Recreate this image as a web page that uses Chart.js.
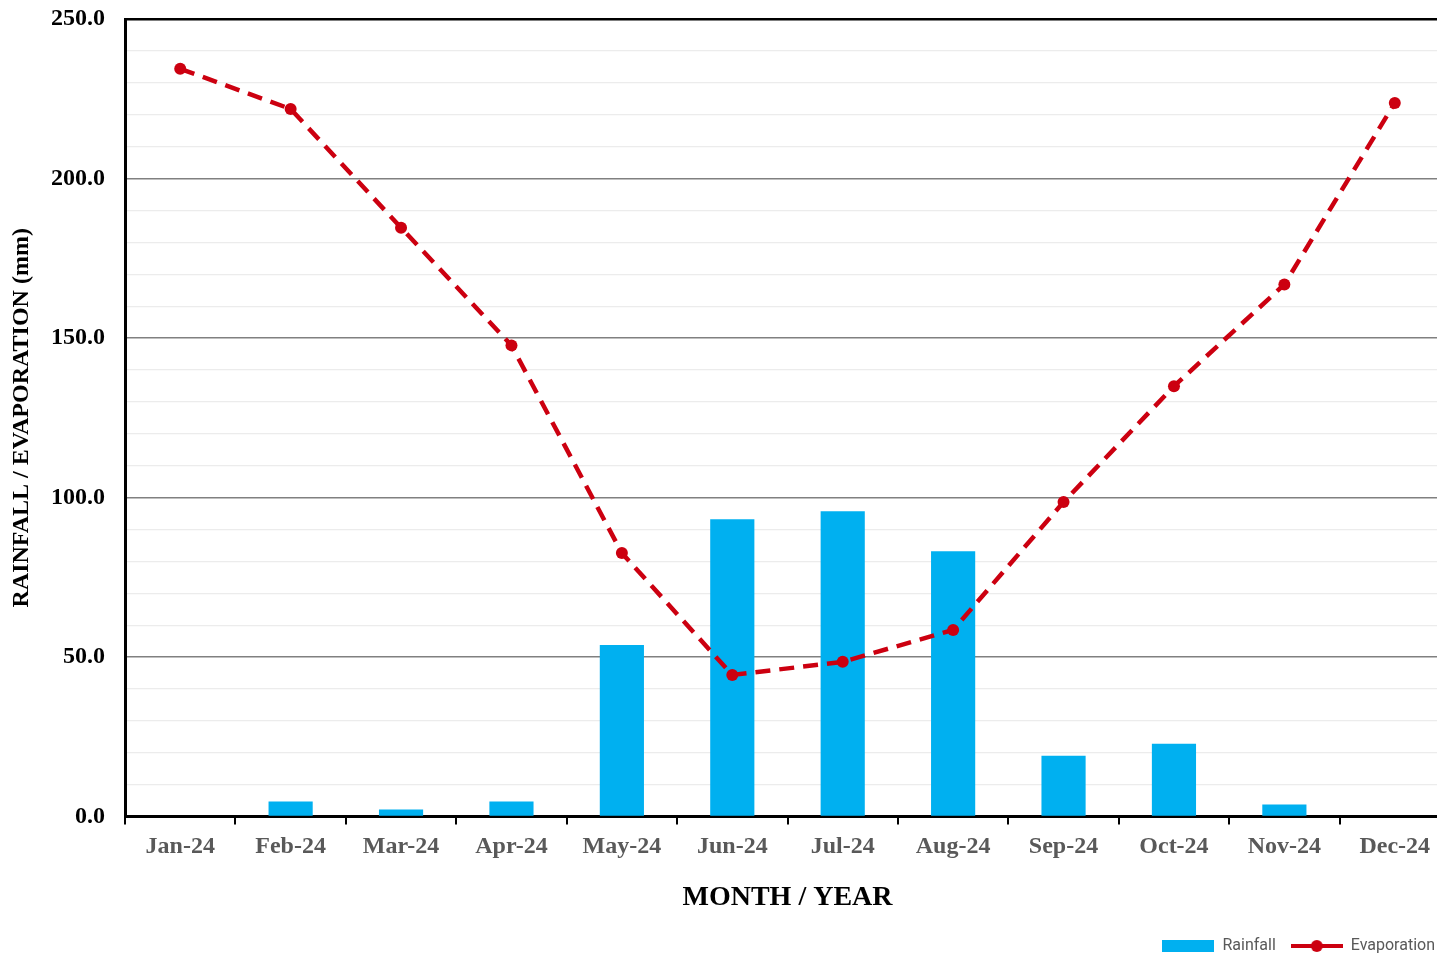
<!DOCTYPE html>
<html>
<head>
<meta charset="utf-8">
<script src="https://cdn.jsdelivr.net/npm/chart.js@4"></script>
<style>
  html, body { margin: 0; padding: 0; background: #fff; overflow: hidden; }
  .chart-box { width: 1462px; height: 954px; }
</style>
</head>
<body>
<div class="chart-box"><canvas id="chart"></canvas></div>
<script>
const months = ["Jan-24", "Feb-24", "Mar-24", "Apr-24", "May-24", "Jun-24",
  "Jul-24", "Aug-24", "Sep-24", "Oct-24", "Nov-24", "Dec-24"];
const rainfall = [0, 4.7, 2.2, 4.7, 53.8, 93.2, 95.7, 83.2, 19.1, 22.8, 3.8, 0];
const evaporation = [234.4, 221.8, 184.6, 147.7, 82.6, 44.4, 48.5, 58.5, 98.6, 134.9, 166.8, 223.7];

const blue = "#00b0f0";
const red = "#cc0010";
const serif = "'Liberation Serif', 'Times New Roman', serif";

// legend symbols
function makeSymbol(kind) {
  const c = document.createElement("canvas");
  c.width = 52;
  c.height = 14;
  const g = c.getContext("2d");
  if (kind === "bar") {
    g.fillStyle = blue;
    g.fillRect(0, 1, 52, 12);
  } else {
    g.strokeStyle = red;
    g.lineWidth = 4;
    g.beginPath();
    g.moveTo(0, 7);
    g.lineTo(52, 7);
    g.stroke();
    g.fillStyle = red;
    g.beginPath();
    g.arc(26, 7, 6, 0, Math.PI * 2);
    g.fill();
  }
  return c;
}

const ctx = document.getElementById("chart").getContext("2d");

new Chart(ctx, {
  type: "bar",
  data: {
    labels: months,
    datasets: [
      {
        type: "line",
        label: "Evaporation",
        data: evaporation,
        borderColor: red,
        backgroundColor: red,
        borderWidth: 4.5,
        borderDash: [15, 9],
        pointRadius: 6,
        pointBackgroundColor: red,
        pointBorderWidth: 0,
        tension: 0,
        order: 1,
      },
      {
        label: "Rainfall",
        data: rainfall,
        backgroundColor: blue,
        barPercentage: 0.4,
        categoryPercentage: 1.0,
        order: 2,
      },
    ],
  },
  options: {
    responsive: true,
    maintainAspectRatio: false,
    animation: false,
    layout: { padding: { top: 19, right: 12, left: 0, bottom: -10 } },
    plugins: {
      tooltip: { enabled: false },
      legend: {
        position: "bottom",
        align: "end",
        reverse: true,
        labels: {
          usePointStyle: true,
          pointStyleWidth: 52,
          boxHeight: 14,
          padding: 15,
          color: "#595959",
          font: { family: "Roboto, 'Noto Sans', sans-serif", size: 16 },
          generateLabels: (chart) =>
            chart.data.datasets.map((ds, i) => ({
              text: ds.label,
              datasetIndex: i,
              fontColor: "#595959",
              pointStyle: makeSymbol(ds.type === "line" ? "line" : "bar"),
              hidden: false,
            })),
        },
      },
    },
    scales: {
      x: {
        offset: true,
        border: { color: "#000", width: 3 },
        grid: {
          offset: true,
          drawOnChartArea: false,
          drawTicks: true,
          tickLength: 8,
          color: "#000",
          lineWidth: 2,
        },
        ticks: {
          color: "#595959",
          padding: 8,
          maxRotation: 0,
          font: { family: serif, size: 24, weight: "bold" },
        },
        title: {
          display: true,
          text: "MONTH / YEAR",
          color: "#000",
          padding: { top: 12, bottom: 8 },
          font: { family: serif, size: 28, weight: "bold" },
        },
      },
      y: {
        min: 0,
        max: 250,
        afterFit: (s) => { s.width = 125; },
        border: { color: "#000", width: 3 },
        grid: {
          drawTicks: true,
          tickLength: 20,
          tickColor: "transparent",
          color: (c) => {
            const v = c.tick.value;
            if (v === 250) return "#000";
            return v % 50 === 0 ? "#808080" : "#ececec";
          },
          lineWidth: (c) => {
            const v = c.tick.value;
            if (v === 250) return 2.5;
            return v % 50 === 0 ? 1.6 : 1.2;
          },
        },
        ticks: {
          stepSize: 10,
          autoSkip: false,
          padding: 0,
          color: "#000",
          font: { family: serif, size: 24, weight: "bold" },
          callback: (v) => (v % 50 === 0 ? v.toFixed(1) : ""),
        },
        title: {
          display: true,
          text: "RAINFALL / EVAPORATION (mm)",
          color: "#000",
          padding: { top: 7, bottom: 0 },
          font: { family: serif, size: 24, weight: "bold" },
        },
      },
    },
  },
});
</script>
</body>
</html>
